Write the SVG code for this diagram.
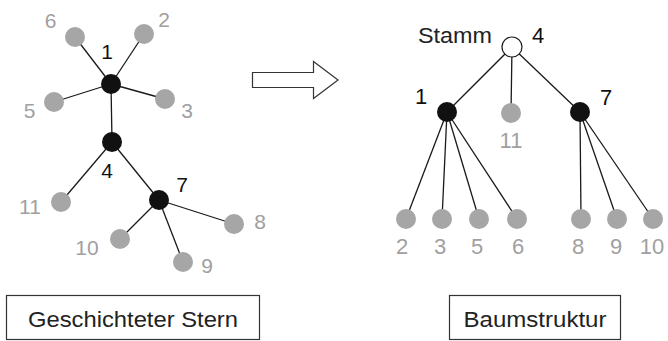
<svg xmlns="http://www.w3.org/2000/svg" width="668" height="341" viewBox="0 0 668 341">
<style>
.e{stroke:#1a1a1a;stroke-width:1.3;fill:none}
.g{fill:#a6a6a6}
.b{fill:#111}
.w{fill:#fff;stroke:#1a1a1a;stroke-width:1.2}
.t{font-family:"Liberation Sans",Arial,sans-serif;font-size:21px;text-anchor:middle}
.tr{font-family:"Liberation Sans",Arial,sans-serif;font-size:22px;text-anchor:middle}
.gt{fill:#a0a0a0}
.bt{fill:#111}
.box{fill:#fff;stroke:#333;stroke-width:1.2}
.lab{font-family:"Liberation Sans",Arial,sans-serif;font-size:22px;fill:#222;text-anchor:middle}
</style>
<rect width="668" height="341" fill="#fff"/>
<g id="connectors">
<line class="e" x1="111" y1="84" x2="75" y2="37"/>
<line class="e" x1="111" y1="84" x2="144" y2="34"/>
<line class="e" x1="111" y1="84" x2="54" y2="102"/>
<line class="e" x1="111" y1="84" x2="165" y2="99"/>
<line class="e" x1="111" y1="84" x2="112" y2="142"/>
<line class="e" x1="112" y1="142" x2="61" y2="202"/>
<line class="e" x1="112" y1="142" x2="159" y2="200"/>
<line class="e" x1="159" y1="200" x2="234" y2="224"/>
<line class="e" x1="159" y1="200" x2="120" y2="239"/>
<line class="e" x1="159" y1="200" x2="183" y2="262"/>
<line class="e" x1="512" y1="47" x2="447" y2="112"/>
<line class="e" x1="512" y1="47" x2="511" y2="113"/>
<line class="e" x1="512" y1="47" x2="580" y2="112"/>
<line class="e" x1="447" y1="112" x2="406" y2="219"/>
<line class="e" x1="447" y1="112" x2="442" y2="219"/>
<line class="e" x1="447" y1="112" x2="479" y2="219"/>
<line class="e" x1="447" y1="112" x2="517" y2="219"/>
<line class="e" x1="580" y1="112" x2="581" y2="219"/>
<line class="e" x1="580" y1="112" x2="617" y2="219"/>
<line class="e" x1="580" y1="112" x2="653" y2="219"/>
</g>
<g id="L6"><circle class="g" cx="75" cy="37" r="10"/><text class="t gt" x="50.5" y="28">6</text></g>
<g id="L2"><circle class="g" cx="144" cy="34" r="10"/><text class="t gt" x="164" y="27">2</text></g>
<g id="L1"><circle class="b" cx="111" cy="84" r="10"/><text class="t bt" x="107" y="59">1</text></g>
<g id="L5"><circle class="g" cx="54" cy="102" r="10"/><text class="t gt" x="29.5" y="118">5</text></g>
<g id="L3"><circle class="g" cx="165" cy="99" r="10"/><text class="t gt" x="187" y="118">3</text></g>
<g id="L4"><circle class="b" cx="112" cy="142" r="10"/><text class="t bt" x="107" y="178">4</text></g>
<g id="L11"><circle class="g" cx="61" cy="202" r="10"/><text class="t gt" x="30" y="214">11</text></g>
<g id="L7"><circle class="b" cx="159" cy="200" r="10"/><text class="t bt" x="182" y="192">7</text></g>
<g id="L8"><circle class="g" cx="234" cy="224" r="10"/><text class="t gt" x="260" y="229">8</text></g>
<g id="L10"><circle class="g" cx="120" cy="239" r="10"/><text class="t gt" x="87" y="255">10</text></g>
<g id="L9"><circle class="g" cx="183" cy="262" r="10"/><text class="t gt" x="207" y="273">9</text></g>
<g id="arrow"><polygon points="252.5,72.5 313.5,72.5 313.5,61.5 338,80 313.5,98.5 313.5,87.5 252.5,87.5" fill="#fff" stroke="#333" stroke-width="1.2"/></g>
<g id="R4"><circle class="w" cx="512" cy="47" r="10"/><text class="lab" x="455" y="43" textLength="74" lengthAdjust="spacingAndGlyphs">Stamm</text><text class="tr bt" x="538" y="43">4</text></g>
<g id="R1"><circle class="b" cx="447" cy="112" r="10"/><text class="tr bt" x="421" y="104">1</text></g>
<g id="R11"><circle class="g" cx="511" cy="113" r="10"/><text class="tr gt" x="511" y="148">11</text></g>
<g id="R7"><circle class="b" cx="580" cy="112" r="10"/><text class="tr bt" x="606" y="105">7</text></g>
<g id="R2"><circle class="g" cx="406" cy="219" r="10"/><text class="tr gt" x="402" y="254">2</text></g>
<g id="R3"><circle class="g" cx="442" cy="219" r="10"/><text class="tr gt" x="440" y="254">3</text></g>
<g id="R5"><circle class="g" cx="479" cy="219" r="10"/><text class="tr gt" x="477" y="254">5</text></g>
<g id="R6"><circle class="g" cx="517" cy="219" r="10"/><text class="tr gt" x="518" y="254">6</text></g>
<g id="R8"><circle class="g" cx="581" cy="219" r="10"/><text class="tr gt" x="578" y="254">8</text></g>
<g id="R9"><circle class="g" cx="617" cy="219" r="10"/><text class="tr gt" x="616" y="254">9</text></g>
<g id="R10"><circle class="g" cx="653" cy="219" r="10"/><text class="tr gt" x="652" y="254">10</text></g>
<g id="box1"><rect class="box" x="6.5" y="295.5" width="253" height="44"/><text class="lab" x="133" y="327" textLength="210" lengthAdjust="spacingAndGlyphs">Geschichteter Stern</text></g>
<g id="box2"><rect class="box" x="449.5" y="295.5" width="171" height="44"/><text class="lab" x="535" y="327" textLength="143" lengthAdjust="spacingAndGlyphs">Baumstruktur</text></g>
</svg>
